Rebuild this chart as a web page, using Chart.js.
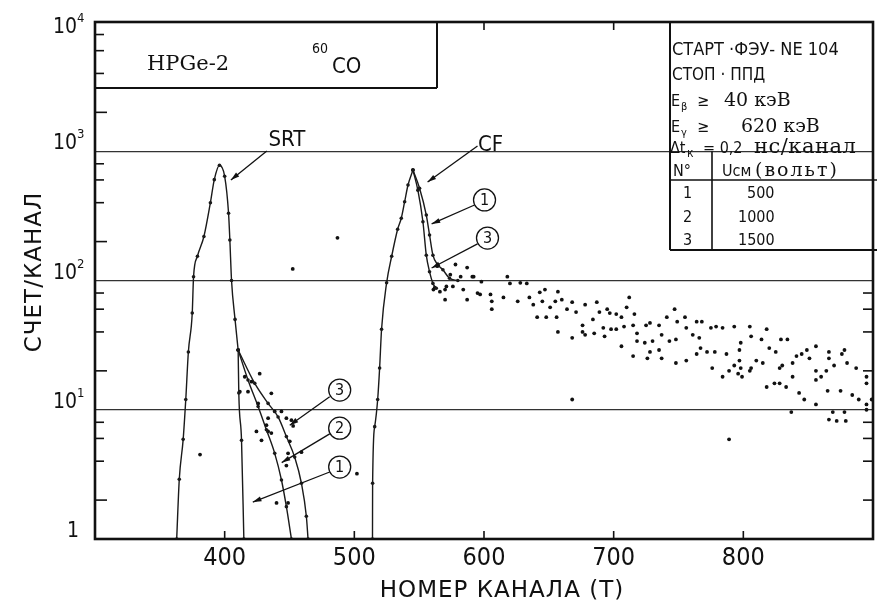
<!DOCTYPE html>
<html>
<head>
<meta charset="utf-8">
<script src="https://cdn.jsdelivr.net/npm/chart.js@4"></script>
<style>
  html, body { margin: 0; padding: 0; background: #fff; }
  #wrap { width: 877px; height: 601px; }
</style>
</head>
<body>
<div id="wrap"><canvas id="spektr" width="877" height="601"></canvas></div>
<script>
const FONT = "'DejaVu Sans Condensed', 'Liberation Sans Narrow', 'DejaVu Sans', sans-serif";
const WIDE = "'DejaVu Sans', 'Liberation Sans', sans-serif";
const SERIF = "'DejaVu Serif', 'Liberation Serif', serif";

// axes
const xTicks = [400, 500, 600, 700, 800];
const yDecades = [1, 10, 100, 1000, 10000];
const yExponents = ["", "1", "2", "3", "4"];

// SRT peak: common part, then tails for U = 500 / 1000 / 1500 V   [channel, counts]
const srtPeak = [[363,1],[365,2.9],[368,5.9],[370,12],[372,28],[375,56],[376,107],[379,154],[384,219],[389,400],[392,603],[396,780],[400,640],[403,331],[404,206],[405.3,100],[408,50],[410.4,29]];
const srtTail1 = [[410.4,29],[410.9,13.5],[413,5.8],[414.8,1]];
const srtTail2 = [[410.4,29],[418,17],[425.8,10.6],[432.2,7],[438.6,4.6],[443.8,2.86],[447.6,1.78],[451.5,1]];
const srtTail3 = [[410.4,29],[423.2,16],[433.5,11.2],[441.2,8.8],[447.6,6.2],[454,4.3],[459.2,2.7],[463,1.5],[464.3,1]];
const srtDots = [[427,19],[436,13.4],[438.6,9.7],[443.8,9.7],[447.6,8.6],[451.5,8.3],[452.8,7.5],[433.5,8.6],[432.2,7.6],[424.5,6.8],[433.5,6.8],[436,6.6],[428.4,5.8],[450.2,5.7],[459.2,4.7],[448.9,4.6],[447.6,3.7],[440,1.9],[448.9,1.9],[415.5,18],[420.7,16.5],[411.7,13.8],[418,13.8],[425.8,11.2],[452.5,123],[487,214],[381,4.5],[502,3.2],[668,12],[789,5.9]];

// CF peak: rise, then tails for U = 500 and 1500 V
const cfRise = [[514,1],[514.1,2.7],[515.7,7.4],[518,12],[519.5,21],[521,42],[524.9,96],[528.8,154],[533.4,249],[536.2,303],[538.8,407],[541.4,548],[545.2,716]];
const cfTail1 = [[545.2,716],[550.3,517],[555.5,321],[558,225],[560.6,157],[564.4,132],[568.3,121],[573.4,104],[579.8,100]];
const cfTail3 = [[545.2,716],[549,500],[552.9,285],[555.5,157],[558,117],[560.6,95],[563.2,87]];
const cfDots = [[561,85],[566,82],[570,71],[571,90],[582,107],[587,71],[592,107],[595,80],[606,60],
  [564,129],[578,133],[587,126],[574,111],[591,107],[598,98],[618,107],[620,95],[628,96],[633,95],
  [562,88],[570,85],[576,90],[584,85],[597,78],[605,78],[615,74],[606,69],[626,69],[635,74],[643,81],[647,85],[657,82],
  [638,65],[645,69],[651,62],[655,69],[660,71],[668,68],[664,60],[671,57],[678,65],[687,68],[689,57],[695,60],[697,56],
  [702,55],[706,52],[712,74],[710,62],[716,55],[656,52],[648,52],[641,52],[657,40],[668,36],[676,40],[678,38],[685,39],
  [693,37],[676,45],[684,50],[692,43],[698,42],[702,42],[708,44],[715,45],[706,31],[718,39],[725,45],[728,47],[735,45],
  [718,34],[724,33],[730,34],[715,26],[726,25],[728,28],[735,29],[737,25],[737,38],[743,34],[748,35],[741,52],[747,60],
  [749,48],[755,52],[756,43],[761,38],[764,48],[768,48],[766,36],[748,23],[756,24],[764,27],[767,30],[772,28],[778,28],
  [775,43],[779,44],[784,43],[793,44],[805,44],[818,42],[787,27],[776,21],[784,18],[789,20],[793,22],[796,19],[798,21],
  [797,24],[799,18],[805,20],[806,21],[810,24],[815,23],[797,29],[798,33],[806,37],[814,35],[820,30],[825,28],[829,35],
  [834,35],[818,15],[824,16],[828,16],[833,15],[828,21],[830,22],[838,23],[838,18],[837,9.6],[843,13.5],[847,12],[841,26],
  [845,27],[849,29],[856,31],[851,25],[856,20],[856,17],[856,11],[860,18],[864,20],[866,28],[866,25],[870,22],[878,29],
  [876,27],[880,23],[887,21],[865,14],[875,14],[884,13],[889,12],[895,18],[895,16],[895,10],[869,9.6],[878,9.6],[866,8.4],
  [872,8.2],[879,8.2],[895,11],[899,12]];

// callouts, in data coordinates
const callouts = [
  {text: "SRT", at: [448, 1222], from: [432.5, 1005], to: [404.8, 600]},
  {text: "CF", at: [605, 1117], from: [595, 1097], to: [556.5, 578]},
  {text: "1", circle: true, at: [600.4, 420], from: [592.7, 384], to: [559.6, 274]},
  {text: "3", circle: true, at: [602.7, 213], from: [595, 192], to: [559.6, 125]},
  {text: "3", circle: true, at: [488.7, 14.2], from: [481, 12.6], to: [450.2, 7.6]},
  {text: "2", circle: true, at: [488.7, 7.2], from: [481, 6.5], to: [444, 3.9]},
  {text: "1", circle: true, at: [488.7, 3.6], from: [481, 3.3], to: [421.7, 1.93]}
];

const pts = arr => arr.map(p => ({x: p[0], y: p[1]}));

function curva(arr){
  return {data: pts(arr), showLine: true, borderColor: "#1a1a1a", borderWidth: 1.4,
    pointRadius: 1.8, pointBackgroundColor: "#1a1a1a", pointBorderWidth: 0,
    tension: 0.35, cubicInterpolationMode: "monotone"};
}
function tochki(arr){
  return {data: pts(arr), showLine: false, pointRadius: 1.9,
    pointBackgroundColor: "#111", pointBorderWidth: 0};
}

function line(ctx, x1, y1, x2, y2){
  ctx.beginPath(); ctx.moveTo(x1, y1); ctx.lineTo(x2, y2); ctx.stroke();
}
function arrow(ctx, x1, y1, x2, y2){
  line(ctx, x1, y1, x2, y2);
  const ang = Math.atan2(y2 - y1, x2 - x1), L = 9, W = 0.28;
  ctx.beginPath();
  ctx.moveTo(x2, y2);
  ctx.lineTo(x2 - L * Math.cos(ang - W), y2 - L * Math.sin(ang - W));
  ctx.lineTo(x2 - L * Math.cos(ang + W), y2 - L * Math.sin(ang + W));
  ctx.closePath(); ctx.fill();
}
function txt(ctx, s, x, y, size, fam, spacing){
  ctx.font = size + "px " + (fam || FONT);
  ctx.letterSpacing = (spacing || 0) + "px";
  ctx.fillText(s, x, y);
  ctx.letterSpacing = "0px";
}

const decor = {
  id: "decor",
  afterDraw(chart){
    const {ctx, chartArea: a, scales: {x, y}} = chart;
    const px = v => x.getPixelForValue(v), py = v => y.getPixelForValue(v);
    ctx.save();
    ctx.strokeStyle = "#111"; ctx.fillStyle = "#111";

    // frame
    ctx.lineWidth = 2.6;
    ctx.strokeRect(a.left, a.top, a.right - a.left, a.bottom - a.top);

    // minor ticks, inward
    ctx.lineWidth = 1.6;
    for (const d of [1, 10, 100, 1000]) for (const m of [2, 4, 6, 8]) {
      const yy = py(d * m);
      line(ctx, a.left, yy, a.left + (m === 2 ? 12 : 9), yy);
      if (d * m < 100) line(ctx, a.right, yy, a.right - 10, yy);
    }
    for (const v of xTicks) {
      const xx = px(v);
      line(ctx, xx, a.bottom, xx, a.bottom - 8);
      if (xx > 440 && xx < 665) line(ctx, xx, a.top, xx, a.top + 8);
    }

    // tick labels
    ctx.textBaseline = "alphabetic";
    ctx.textAlign = "center";
    for (const v of xTicks) txt(ctx, String(v), px(v), 565, 25);
    yDecades.forEach((d, i) => {
      const base = py(d) + (d === 10000 ? 11 : -2);
      ctx.textAlign = "right";
      if (yExponents[i] === "") {
        txt(ctx, "1", 79, base, 21);
      } else {
        txt(ctx, "10", 77, base, 21);
        ctx.textAlign = "left";
        txt(ctx, yExponents[i], 77, base - 11, 13);
      }
    });

    // top-left box
    ctx.textAlign = "left";
    ctx.lineWidth = 2;
    line(ctx, 437, a.top, 437, 88);
    line(ctx, a.left, 88, 437, 88);
    txt(ctx, "HPGe-2", 147, 70, 21, SERIF);
    txt(ctx, "60", 312, 53, 14);
    txt(ctx, "CO", 332, 73, 22);

    // right box
    line(ctx, 670, a.top, 670, 250);
    line(ctx, 670, 250, 877, 250);
    ctx.lineWidth = 1.6;
    line(ctx, 670, 180, 877, 180);
    line(ctx, 712, py(1000), 712, 250);
    txt(ctx, "СТАРТ ·ФЭУ- NE 104", 672, 55, 18);
    txt(ctx, "СТОП · ППД", 672, 80, 17);
    txt(ctx, "E", 671, 106, 16); txt(ctx, "β", 681, 110, 11);
    txt(ctx, "≥", 697, 106, 16); txt(ctx, "40 кэВ", 724, 106, 19, SERIF);
    txt(ctx, "E", 671, 132, 16); txt(ctx, "γ", 681, 136, 11);
    txt(ctx, "≥", 697, 132, 16); txt(ctx, "620 кэВ", 741, 132, 19, SERIF);
    txt(ctx, "Δt", 670, 153, 16); txt(ctx, "к", 687, 157, 12);
    txt(ctx, "= 0,2", 703, 153, 16); txt(ctx, "нс/канал", 754, 153, 21, SERIF, 0.5);
    txt(ctx, "N°", 673, 176, 16);
    txt(ctx, "Uсм", 722, 176, 16);
    txt(ctx, "(вольт)", 755, 176, 19, SERIF, 2);
    txt(ctx, "1", 683, 198, 16); txt(ctx, "500", 747, 198, 16);
    txt(ctx, "2", 683, 222, 16); txt(ctx, "1000", 738, 222, 16);
    txt(ctx, "3", 683, 245, 16); txt(ctx, "1500", 738, 245, 16);

    // callouts
    ctx.lineWidth = 1.3;
    ctx.textAlign = "center"; ctx.textBaseline = "middle";
    for (const c of callouts) {
      const cx = px(c.at[0]), cy = py(c.at[1]);
      if (c.circle) {
        ctx.beginPath(); ctx.arc(cx, cy, 11, 0, Math.PI * 2); ctx.stroke();
        txt(ctx, c.text, cx, cy + 1, 16);
      } else {
        txt(ctx, c.text, cx, cy, 22);
      }
      arrow(ctx, px(c.from[0]), py(c.from[1]), px(c.to[0]), py(c.to[1]));
    }

    // axis titles
    ctx.textAlign = "center"; ctx.textBaseline = "alphabetic";
    txt(ctx, "НОМЕР КАНАЛА (Т)", 502, 597, 23, WIDE, 1);
    ctx.translate(35, 272); ctx.rotate(-Math.PI / 2);
    ctx.textBaseline = "middle";
    txt(ctx, "СЧЕТ/КАНАЛ", 0, 0, 23, WIDE, 1);
    ctx.restore();
  }
};

new Chart(document.getElementById("spektr"), {
  type: "scatter",
  data: {
    datasets: [
      curva(srtPeak), curva(srtTail1), curva(srtTail2), curva(srtTail3),
      curva(cfRise), curva(cfTail1), curva(cfTail3),
      tochki(srtDots), tochki(cfDots)
    ]
  },
  options: {
    responsive: false,
    animation: false,
    devicePixelRatio: 1,
    layout: {padding: {top: 22, right: 3, left: 0, bottom: 0}},
    plugins: {legend: {display: false}, tooltip: {enabled: false}},
    scales: {
      x: {
        type: "linear", min: 300, max: 900,
        afterBuildTicks: s => { s.ticks = xTicks.map(v => ({value: v})); },
        afterFit: s => { s.height = 62; },
        ticks: {display: false},
        grid: {display: false},
        border: {display: false}
      },
      y: {
        type: "logarithmic", min: 1, max: 10000,
        afterBuildTicks: s => { s.ticks = yDecades.map(v => ({value: v})); },
        afterFit: s => { s.width = 95; },
        ticks: {display: false},
        grid: {
          drawTicks: false, lineWidth: 1.2,
          color: c => (c.tick && [10, 100, 1000].includes(c.tick.value)) ? "#333" : "rgba(0,0,0,0)"
        },
        border: {display: false}
      }
    }
  },
  plugins: [decor]
});
</script>
</body>
</html>
